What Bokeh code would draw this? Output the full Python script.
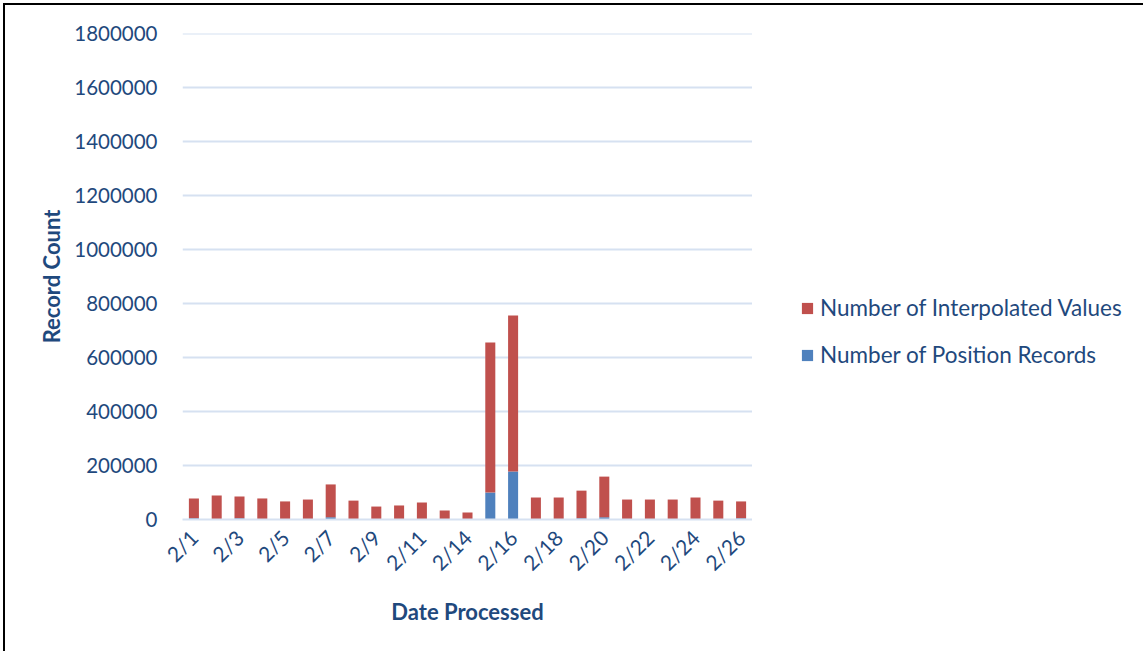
import math
from bokeh.plotting import figure
from bokeh.layouts import row
from bokeh.models import (ColumnDataSource, Range1d, Legend, LegendItem,
                          FixedTicker, NumeralTickFormatter)
from bokeh.embed import file_html
from bokeh.resources import INLINE

dates = ["2/1", "2/2", "2/3", "2/4", "2/5", "2/6", "2/7", "2/8", "2/9", "2/10", "2/11",
         "2/13", "2/14", "2/15", "2/16", "2/17", "2/18", "2/19", "2/20", "2/21", "2/22",
         "2/23", "2/24", "2/25", "2/26"]
position_records = [5000, 2000, 5000, 2000, 2000, 2000, 8000, 2000, 2000, 2000, 2000,
                    2000, 2000, 100000, 178000, 2000, 2000, 5000, 8000, 2000, 2000,
                    2000, 2000, 2000, 5000]
interpolated_values = [73000, 87000, 80000, 76000, 65000, 72000, 122000, 68000, 46000, 50000, 61000,
                       31000, 24000, 556000, 578000, 79500, 79500, 102000, 151000, 72000, 72000,
                       72000, 79500, 68000, 62000]
y_ticks = [0, 200000, 400000, 600000, 800000, 1000000, 1200000, 1400000, 1600000, 1800000]
series = ["position", "interpolated"]
series_labels = ["Number of Position Records", "Number of Interpolated Values"]
colors = ["#4F81BD", "#C0504D"]

TEXT = "#1F497D"
FONT = "Lato"

idx = list(range(len(dates)))
source = ColumnDataSource(dict(idx=idx, date=dates, position=position_records,
                               interpolated=interpolated_values))

p = figure(x_range=Range1d(-0.5, len(dates) - 0.5), y_range=Range1d(0, y_ticks[-1] * 1.001),
           width=747, height=646, output_backend="svg", toolbar_location=None,
           min_border_left=177, min_border_right=0, min_border_top=28, min_border_bottom=132)
p.outline_line_color = None
p.background_fill_color = "white"

renderers = p.vbar_stack(series, x="idx", width=0.44, color=colors, source=source,
                         line_color=None)

p.xgrid.grid_line_color = None
p.ygrid.grid_line_color = "#D6E1F1"
p.ygrid.grid_line_width = 2
p.yaxis.ticker = FixedTicker(ticks=y_ticks)
p.yaxis.formatter = NumeralTickFormatter(format="0")
p.yaxis.axis_line_color = None
p.yaxis.major_tick_line_color = None
p.yaxis.minor_tick_line_color = None
p.yaxis.major_label_standoff = 19
p.yaxis.major_label_text_font = FONT
p.yaxis.major_label_text_font_size = "20.5px"
p.yaxis.major_label_text_color = TEXT
p.yaxis.axis_label = "Record Count"
p.yaxis.axis_label_text_font = FONT
p.yaxis.axis_label_text_font_size = "22px"
p.yaxis.axis_label_text_font_style = "bold"
p.yaxis.axis_label_text_color = TEXT
p.yaxis.axis_label_standoff = 6

p.xaxis.ticker = FixedTicker(ticks=idx[::2])
p.xaxis.major_label_overrides = {i: dates[i] for i in idx[::2]}
p.xaxis.axis_line_color = "#D6E1F1"
p.xaxis.axis_line_width = 2
p.xaxis.major_tick_line_color = None
p.xaxis.minor_tick_line_color = None
p.xaxis.major_label_orientation = math.pi / 4
p.xaxis.major_label_text_font = FONT
p.xaxis.major_label_text_font_size = "21px"
p.xaxis.major_label_text_color = TEXT
p.xaxis.major_label_standoff = 8
p.xaxis.axis_label = "Date Processed"
p.xaxis.axis_label_text_font = FONT
p.xaxis.axis_label_text_font_size = "22px"
p.xaxis.axis_label_text_font_style = "bold"
p.xaxis.axis_label_text_color = TEXT
p.xaxis.axis_label_standoff = 11

# legend panel: a second figure holding the legend (its renderers are hidden)
p2 = figure(x_range=Range1d(0, 1), y_range=Range1d(0, 1),
            width=391, height=646, output_backend="svg", toolbar_location=None,
            x_axis_type=None, y_axis_type=None, min_border=0)
p2.outline_line_color = None
p2.grid.visible = False
lr = p2.vbar_stack(series, x="idx", width=0.44, color=colors, source=source, line_color=None)
for r in lr:
    r.visible = False

legend = Legend(items=[LegendItem(label=series_labels[1], renderers=[lr[1]]),
                       LegendItem(label=series_labels[0], renderers=[lr[0]])],
                location=(48, 151), orientation="vertical",
                border_line_color=None, background_fill_alpha=0,
                inactive_fill_alpha=0,
                padding=0, margin=0, spacing=20,
                glyph_width=14, glyph_height=14, label_height=22, label_standoff=6,
                label_text_font=FONT, label_text_font_size="22.5px", label_text_color=TEXT)
p2.add_layout(legend)

layout = row(p, p2, styles={"border-top": "2px solid black", "border-left": "2px solid black",
                            "margin-left": "3px", "margin-top": "3px"})

open("out.html", "w").write(file_html(layout, INLINE))
